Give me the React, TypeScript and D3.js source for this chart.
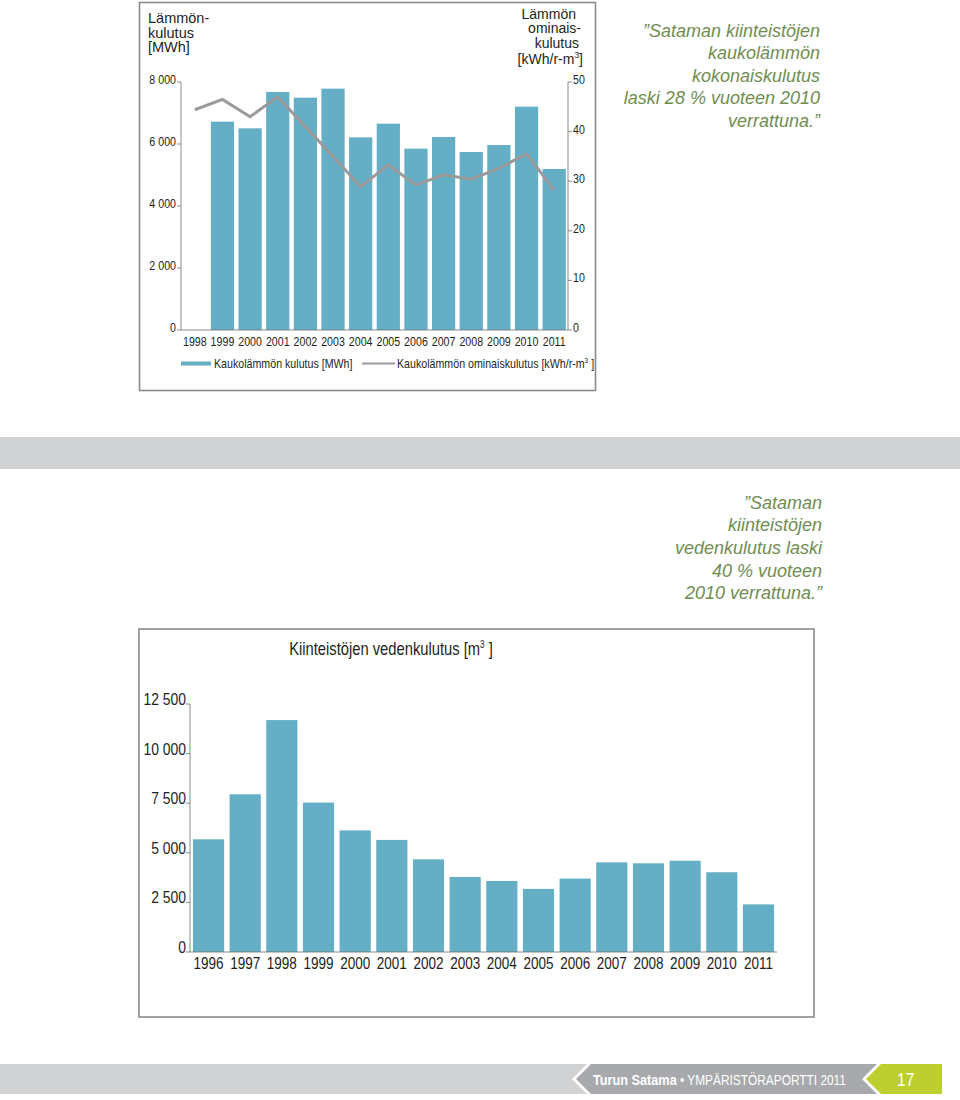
import { useRef, useEffect } from 'react'
import * as d3 from 'd3'

// District heating, 1998-2011
const heatYears = ['1998', '1999', '2000', '2001', '2002', '2003', '2004', '2005', '2006', '2007', '2008', '2009', '2010', '2011']
const heatMWh: (number | null)[] = [null, 6720, 6505, 7677, 7494, 7785, 6215, 6656, 5850, 6226, 5742, 5968, 7204, 5194]
const heatSpecific = [44.4, 46.5, 43.0, 47.0, 41.0, 35.0, 28.9, 33.3, 29.2, 31.3, 30.4, 32.6, 35.5, 28.2]
const heatLeftTicks = [0, 2000, 4000, 6000, 8000]
const heatRightTicks = [0, 10, 20, 30, 40, 50]

// Water consumption, 1996-2011
const waterYears = ['1996', '1997', '1998', '1999', '2000', '2001', '2002', '2003', '2004', '2005', '2006', '2007', '2008', '2009', '2010', '2011']
const waterM3 = [5680, 7950, 11690, 7530, 6130, 5650, 4670, 3780, 3580, 3180, 3700, 4520, 4470, 4600, 4020, 2400]
const waterTicks = [0, 2500, 5000, 7500, 10000, 12500]

const quoteHeat = ['”Sataman kiinteistöjen', 'kaukolämmön', 'kokonaiskulutus', 'laski 28 % vuoteen 2010', 'verrattuna.”']
const quoteWater = ['”Sataman', 'kiinteistöjen', 'vedenkulutus laski', '40 % vuoteen', '2010 verrattuna.”']

const SANS = "'Liberation Sans', Arial, Helvetica, sans-serif"
const NARROW_X = 0.82 // condensed look: squeeze Liberation Sans horizontally
const BLUE = '#64aec6'
const LINE_GRAY = '#9a9a9a'
const AXIS = '#6d6e71'
const TEXT = '#231f20'
const GREEN_TEXT = '#6f8c52'

const fmt = d3.formatLocale({ decimal: ',', thousands: ' ', grouping: [3], currency: ['', ''] }).format(',')
const narrow = (x: number, y: number) => `translate(${x},${y}) scale(${NARROW_X},1)`

export default function App() {
  const svgRef = useRef<SVGSVGElement>(null)

  useEffect(() => {
    if (!svgRef.current) return
    const svg = d3.select(svgRef.current)
    svg.selectAll('*').remove()

    // ---------- top chart: heating ----------
    const top = svg.append('g')
    top.append('rect')
      .attr('x', 139.5).attr('y', 2.5).attr('width', 456).attr('height', 388)
      .attr('fill', 'white').attr('stroke', '#8a8a8a').attr('stroke-width', 1.6)

    const hx = d3.scaleBand<string>().domain(heatYears).range([181, 568]).paddingInner(0.16).paddingOuter(0.08)
    const hy = d3.scaleLinear().domain([0, 8000]).range([330, 82])
    const hy2 = d3.scaleLinear().domain([0, 50]).range([330, 82])

    top.selectAll('rect.bar')
      .data(heatYears.map((y, i) => ({ year: y, v: heatMWh[i] })).filter((d) => d.v !== null))
      .join('rect')
      .attr('class', 'bar')
      .attr('x', (d) => hx(d.year)!)
      .attr('width', hx.bandwidth())
      .attr('y', (d) => hy(d.v as number))
      .attr('height', (d) => hy(0) - hy(d.v as number))
      .attr('fill', BLUE)

    const line = d3.line<number>()
      .x((_, i) => hx(heatYears[i])! + hx.bandwidth() / 2)
      .y((d) => hy2(d))
    top.append('path')
      .datum(heatSpecific)
      .attr('d', line)
      .attr('fill', 'none')
      .attr('stroke', LINE_GRAY)
      .attr('stroke-width', 3)

    // axes
    top.append('line')
      .attr('x1', 181).attr('x2', 181).attr('y1', hy(8000)).attr('y2', hy(0))
      .attr('stroke', AXIS).attr('stroke-width', 0.8)
    top.append('line')
      .attr('x1', 568).attr('x2', 568).attr('y1', hy2(50)).attr('y2', hy2(0))
      .attr('stroke', AXIS).attr('stroke-width', 0.8)
    top.append('line')
      .attr('x1', 181).attr('x2', 568).attr('y1', hy(0)).attr('y2', hy(0))
      .attr('stroke', AXIS).attr('stroke-width', 0.8)

    const lt = top.append('g').selectAll('g').data(heatLeftTicks).join('g')
      .attr('transform', (d) => `translate(0,${hy(d)})`)
    lt.append('line').attr('x1', 177).attr('x2', 181).attr('stroke', AXIS).attr('stroke-width', 0.8)
    lt.append('text')
      .attr('transform', narrow(176, 2))
      .attr('text-anchor', 'end')
      .attr('font-family', SANS).attr('font-size', 13).attr('fill', TEXT)
      .text((d) => fmt(d))

    const rt = top.append('g').selectAll('g').data(heatRightTicks).join('g')
      .attr('transform', (d) => `translate(0,${hy2(d)})`)
    rt.append('line').attr('x1', 568).attr('x2', 572).attr('stroke', AXIS).attr('stroke-width', 0.8)
    rt.append('text')
      .attr('transform', narrow(573, 2))
      .attr('font-family', SANS).attr('font-size', 13).attr('fill', TEXT)
      .text((d) => d)

    top.append('g').selectAll('text').data(heatYears).join('text')
      .attr('transform', (d) => narrow(hx(d)! + hx.bandwidth() / 2, 346))
      .attr('text-anchor', 'middle')
      .attr('font-family', SANS).attr('font-size', 13).attr('fill', TEXT)
      .text((d) => d)

    // axis titles
    const leftTitle = ['Lämmön-', 'kulutus', '[MWh]']
    top.append('g').selectAll('text').data(leftTitle).join('text')
      .attr('x', 148).attr('y', (_, i) => 23 + i * 14.5)
      .attr('font-family', SANS).attr('font-size', 14.5).attr('fill', TEXT)
      .text((d) => d)

    const rightTitle = ['Lämmön', 'ominais-', 'kulutus']
    top.append('g').selectAll('text').data(rightTitle).join('text')
      .attr('x', (_, i) => [576, 581, 579][i]).attr('y', (_, i) => 18.5 + i * 14.8)
      .attr('text-anchor', 'end')
      .attr('font-family', SANS).attr('font-size', 14).attr('fill', TEXT)
      .text((d) => d)
    const unit = top.append('text')
      .attr('x', 583).attr('y', 63.5)
      .attr('text-anchor', 'end')
      .attr('font-family', SANS).attr('font-size', 14).attr('fill', TEXT)
    unit.append('tspan').text('[kWh/r-m')
    unit.append('tspan').attr('font-size', 8.5).attr('dy', -6).text('3')
    unit.append('tspan').attr('dy', 6).text(']')

    // legend
    top.append('rect').attr('x', 181).attr('y', 361.5).attr('width', 30).attr('height', 4).attr('fill', BLUE)
    top.append('text')
      .attr('transform', narrow(214, 367.5))
      .attr('font-family', SANS).attr('font-size', 13).attr('fill', TEXT)
      .text('Kaukolämmön kulutus [MWh]')
    top.append('line').attr('x1', 362).attr('x2', 395).attr('y1', 363.5).attr('y2', 363.5)
      .attr('stroke', LINE_GRAY).attr('stroke-width', 2)
    const lg2 = top.append('text')
      .attr('transform', narrow(397, 367.5))
      .attr('font-family', SANS).attr('font-size', 13).attr('fill', TEXT)
    lg2.append('tspan').text('Kaukolämmön ominaiskulutus [kWh/r-m')
    lg2.append('tspan').attr('font-size', 8).attr('dy', -5).text('3')
    lg2.append('tspan').attr('dy', 5).text(' ]')

    // quote 1
    svg.append('g').selectAll('text').data(quoteHeat).join('text')
      .attr('x', 820).attr('y', (_, i) => 36.5 + i * 22.5)
      .attr('text-anchor', 'end')
      .attr('font-family', SANS).attr('font-style', 'italic').attr('font-size', 18)
      .attr('fill', GREEN_TEXT)
      .text((d) => d)

    // grey band
    svg.append('rect').attr('x', 0).attr('y', 437).attr('width', 960).attr('height', 32).attr('fill', '#d1d2d4')

    // quote 2
    svg.append('g').selectAll('text').data(quoteWater).join('text')
      .attr('x', 822).attr('y', (_, i) => 508.5 + i * 22.7)
      .attr('text-anchor', 'end')
      .attr('font-family', SANS).attr('font-style', 'italic').attr('font-size', 18)
      .attr('fill', GREEN_TEXT)
      .text((d) => d)

    // ---------- bottom chart: water ----------
    const bot = svg.append('g')
    bot.append('rect')
      .attr('x', 139).attr('y', 629).attr('width', 675).attr('height', 388)
      .attr('fill', 'white').attr('stroke', '#8a8a8a').attr('stroke-width', 1.6)

    const wx = d3.scaleBand<string>().domain(waterYears).range([190, 777]).paddingInner(0.15).paddingOuter(0.08)
    const wy = d3.scaleLinear().domain([0, 12500]).range([952, 704])

    bot.selectAll('rect.bar')
      .data(waterYears.map((y, i) => ({ year: y, v: waterM3[i] })))
      .join('rect')
      .attr('class', 'bar')
      .attr('x', (d) => wx(d.year)!)
      .attr('width', wx.bandwidth())
      .attr('y', (d) => wy(d.v))
      .attr('height', (d) => wy(0) - wy(d.v))
      .attr('fill', BLUE)

    bot.append('line')
      .attr('x1', 190).attr('x2', 190).attr('y1', wy(12500)).attr('y2', wy(0))
      .attr('stroke', AXIS).attr('stroke-width', 0.8)
    bot.append('line')
      .attr('x1', 190).attr('x2', 777).attr('y1', wy(0)).attr('y2', wy(0))
      .attr('stroke', AXIS).attr('stroke-width', 0.8)

    const wt = bot.append('g').selectAll('g').data(waterTicks).join('g')
      .attr('transform', (d) => `translate(0,${wy(d)})`)
    wt.append('line').attr('x1', 186).attr('x2', 190).attr('stroke', AXIS).attr('stroke-width', 0.8)
    wt.append('text')
      .attr('transform', narrow(186, 1))
      .attr('text-anchor', 'end')
      .attr('font-family', SANS).attr('font-size', 17).attr('fill', TEXT)
      .text((d) => fmt(d))

    bot.append('g').selectAll('text').data(waterYears).join('text')
      .attr('transform', (d) => narrow(wx(d)! + wx.bandwidth() / 2, 969))
      .attr('text-anchor', 'middle')
      .attr('font-family', SANS).attr('font-size', 16.5).attr('fill', TEXT)
      .text((d) => d)

    const wTitle = bot.append('text')
      .attr('transform', narrow(391, 655))
      .attr('text-anchor', 'middle')
      .attr('font-family', SANS).attr('font-size', 18).attr('fill', TEXT)
    wTitle.append('tspan').text('Kiinteistöjen vedenkulutus [m')
    wTitle.append('tspan').attr('font-size', 10).attr('dy', -7).text('3')
    wTitle.append('tspan').attr('dy', 7).text(' ]')

    // ---------- footer ----------
    const ft = svg.append('g')
    ft.append('path')
      .attr('d', 'M0,1064 L587,1064 L572,1079 L587,1094 L0,1094 Z')
      .attr('fill', '#d1d2d4')
    ft.append('path')
      .attr('d', 'M591,1064 L877,1064 L862,1079 L877,1094 L591,1094 L576,1079 Z')
      .attr('fill', '#a7a9ac')
    ft.append('path')
      .attr('d', 'M881,1064 L942,1064 L942,1094 L881,1094 L866,1079 Z')
      .attr('fill', '#bccf2f')
    const ftText = ft.append('text')
      .attr('transform', narrow(593, 1085))
      .attr('font-family', SANS).attr('fill', 'white')
    ftText.append('tspan').attr('font-size', 15.5).attr('font-weight', 'bold').text('Turun Satama')
    ftText.append('tspan').attr('font-size', 14.5).text(' • YMPÄRISTÖRAPORTTI 2011')
    ft.append('text')
      .attr('transform', narrow(897, 1086))
      .attr('font-family', SANS).attr('font-size', 19).attr('fill', 'white')
      .text('17')
  }, [])

  return (
    <div style={{ position: 'absolute', left: 0, top: 0 }}>
      <svg ref={svgRef} width={960} height={1100} style={{ display: 'block' }} />
    </div>
  )
}
